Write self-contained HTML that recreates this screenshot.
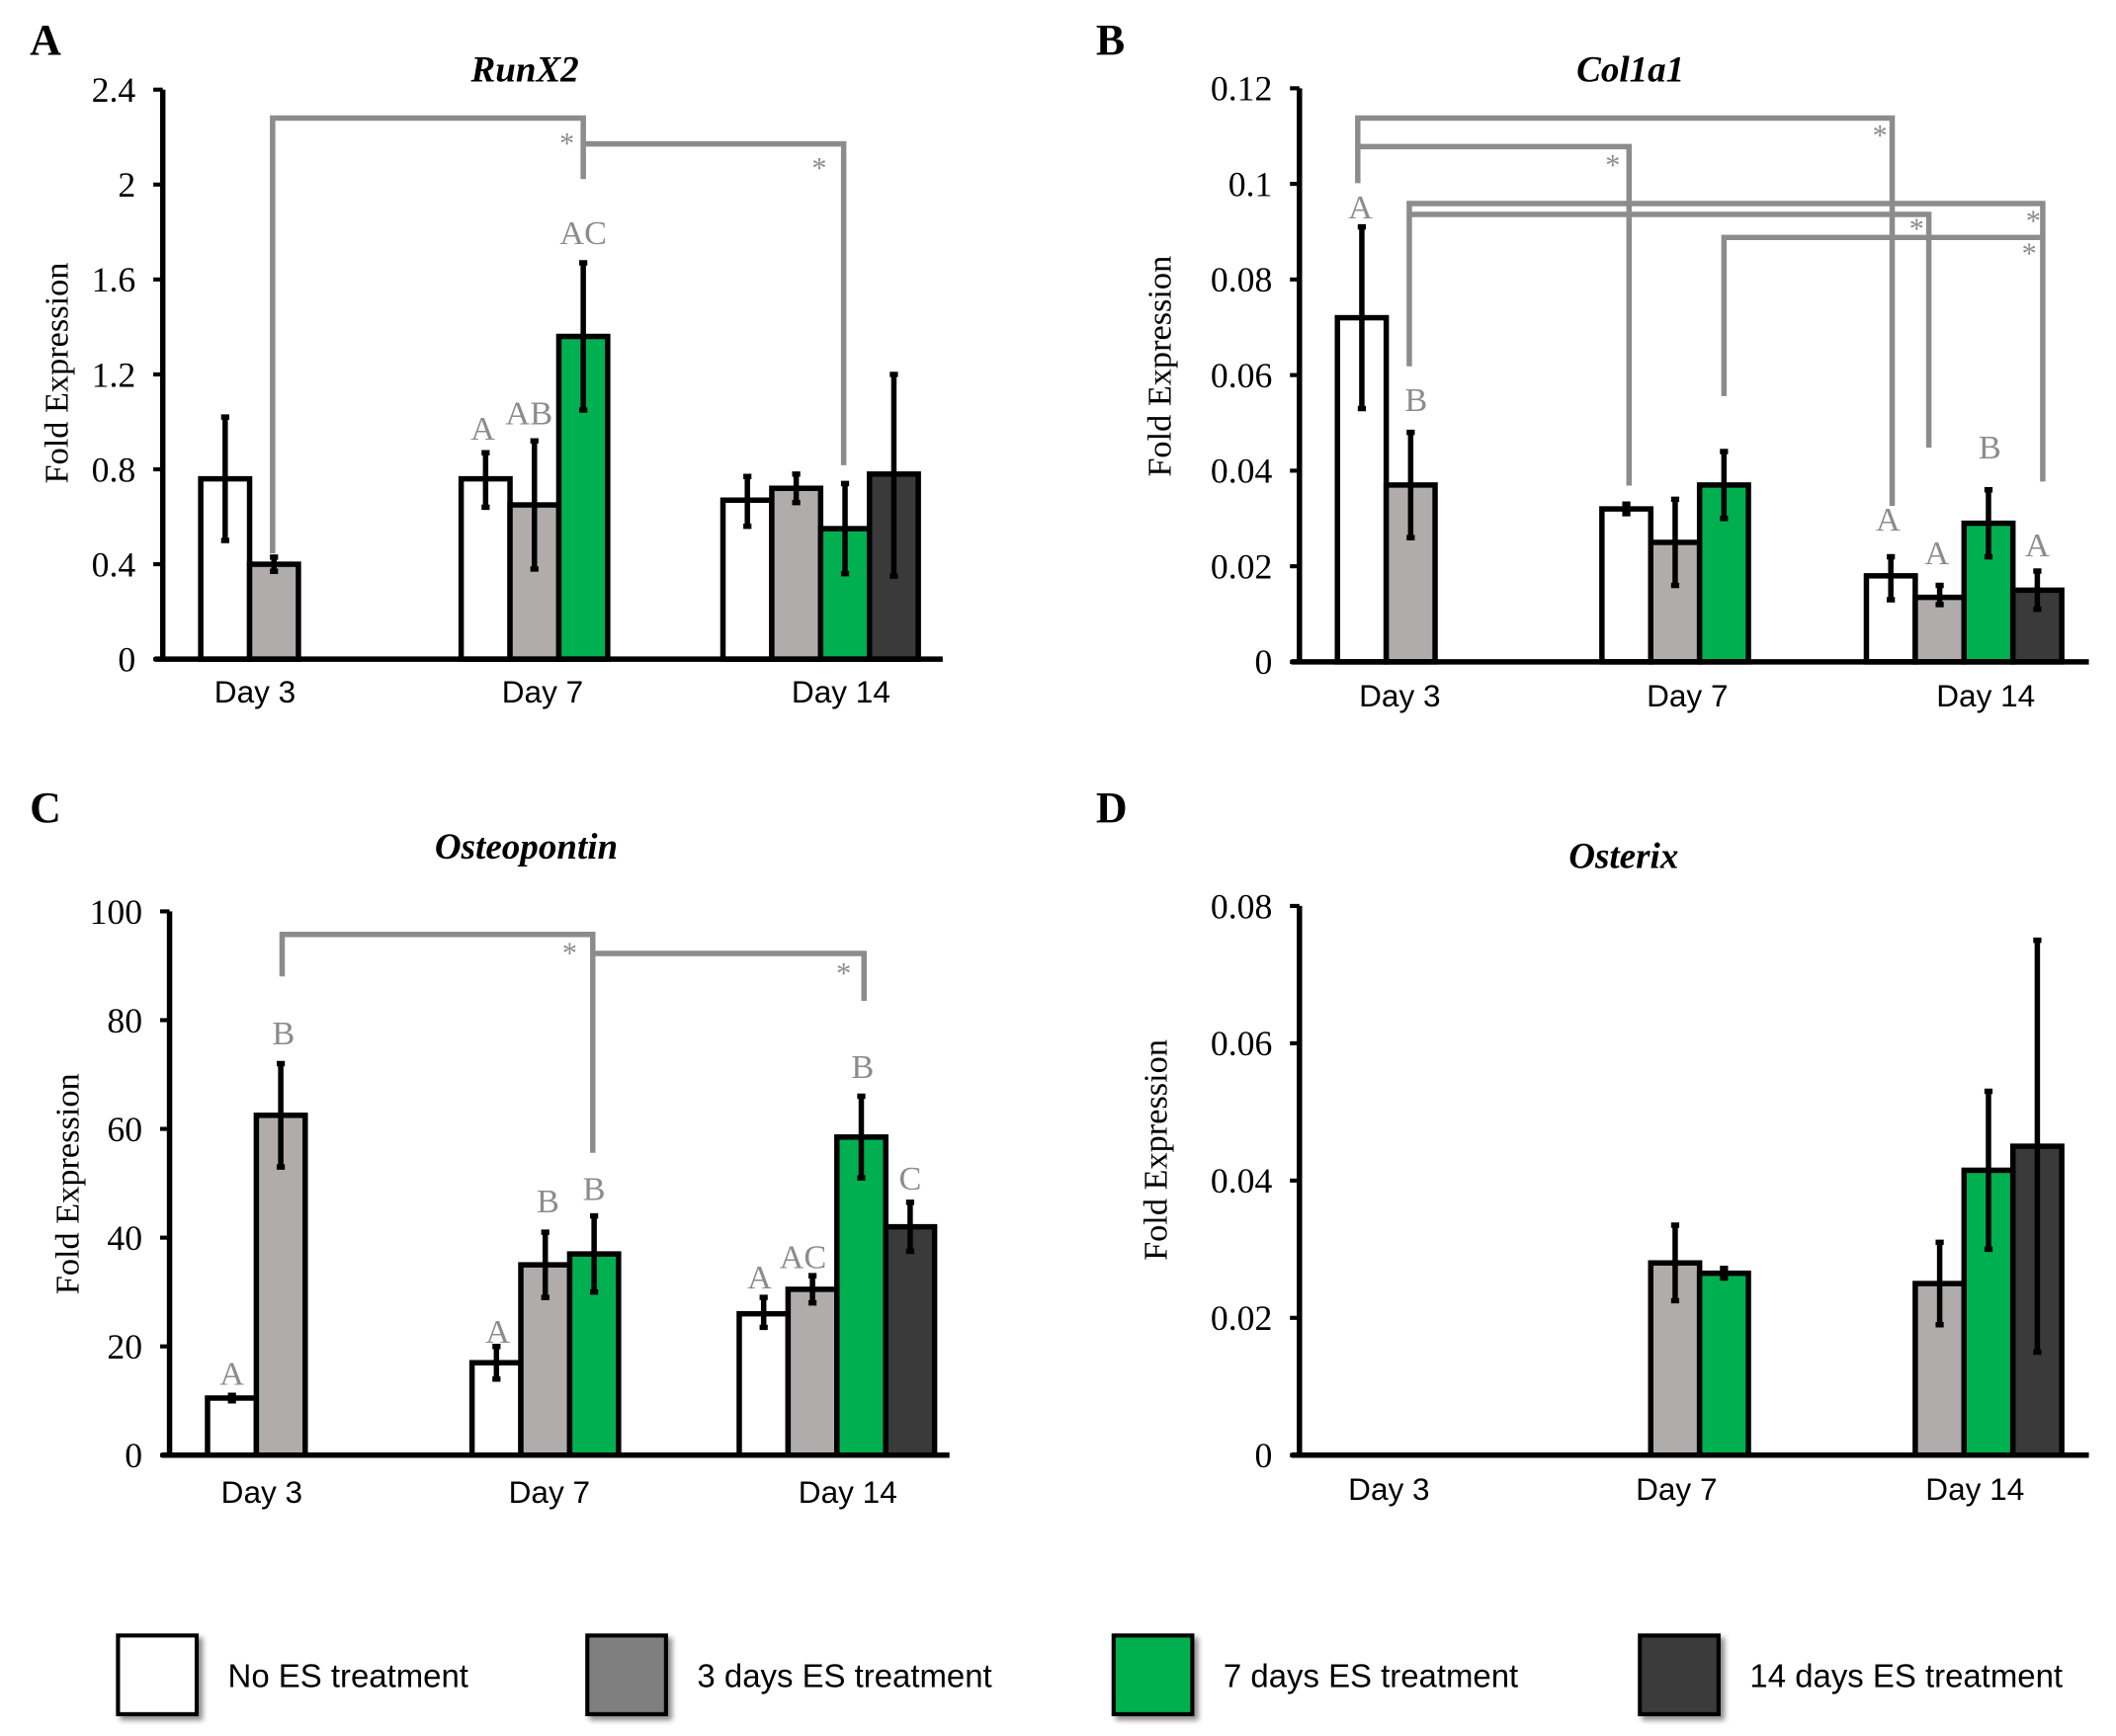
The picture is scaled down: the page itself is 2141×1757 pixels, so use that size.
<!DOCTYPE html>
<html><head><meta charset="utf-8"><style>
html,body{margin:0;padding:0;background:#fff}
svg{display:block}
.tk{font-family:"Liberation Serif",serif;font-size:26px;fill:#000}
.dl{font-family:"Liberation Sans",sans-serif;font-size:23px;fill:#000}
.tt{font-family:"Liberation Serif",serif;font-size:27px;font-weight:bold;font-style:italic}
.yl{font-family:"Liberation Serif",serif;font-size:25px}
.pl{font-family:"Liberation Serif",serif;font-size:32px;font-weight:bold}
.lt{font-family:"Liberation Serif",serif;font-size:25px;fill:#8c8c8c}
.st{font-family:"Liberation Serif",serif;font-size:22px;fill:#8c8c8c}
.lg{font-family:"Liberation Sans",sans-serif;font-size:24px}
</style></head><body>
<svg id="fig" width="2141" height="1757" viewBox="0 0 1560 1280" xmlns="http://www.w3.org/2000/svg">
<defs><filter id="sh" x="-20%" y="-20%" width="150%" height="150%"><feDropShadow dx="3" dy="3" stdDeviation="2" flood-color="#000" flood-opacity="0.45"/></filter></defs>
<g id="legend"></g>
</svg>
<script>
const days = ["Day 3","Day 7","Day 14"];
const colors = ["#ffffff","#b0acab","#00b050","#3a3a3a"];
// Panel A RunX2
const aVals = [[0.76,0.40],[0.76,0.65,1.36],[0.67,0.72,0.55,0.78]];
const aLo = [[0.50,0.37],[0.64,0.38,1.05],[0.56,0.66,0.36,0.35]];
const aHi = [[1.02,0.43],[0.87,0.92,1.67],[0.77,0.78,0.74,1.20]];
const aTicks = [0,0.4,0.8,1.2,1.6,2,2.4];
const aTickLabels = ["0","0.4","0.8","1.2","1.6","2","2.4"];
// Panel B Col1a1
const bVals = [[0.072,0.037],[0.032,0.025,0.037],[0.018,0.0135,0.029,0.015]];
const bLo = [[0.053,0.026],[0.031,0.016,0.030],[0.013,0.012,0.022,0.011]];
const bHi = [[0.091,0.048],[0.033,0.034,0.044],[0.022,0.016,0.036,0.019]];
const bTicks = [0,0.02,0.04,0.06,0.08,0.1,0.12];
const bTickLabels = ["0","0.02","0.04","0.06","0.08","0.1","0.12"];
// Panel C Osteopontin
const cVals = [[10.5,62.5],[17,35,37],[26,30.5,58.5,42]];
const cLo = [[10,53],[14,29,30],[23.5,28,51,37.5]];
const cHi = [[11,72],[20,41,44],[29,33,66,46.5]];
const cTicks = [0,20,40,60,80,100];
const cTickLabels = ["0","20","40","60","80","100"];
// Panel D Osterix
const dVals = [[0,0],[0,0.028,0.0265],[0,0.025,0.0415,0.045]];
const dLo = [[0,0],[0,0.0225,0.0258],[0,0.019,0.030,0.015]];
const dHi = [[0,0],[0,0.0335,0.0272],[0,0.031,0.053,0.075]];
const dTicks = [0,0.02,0.04,0.06,0.08];
const dTickLabels = ["0","0.02","0.04","0.06","0.08"];
const legendLabels = ["No ES treatment","3 days ES treatment","7 days ES treatment","14 days ES treatment"];

const NS="http://www.w3.org/2000/svg";
const svg=document.getElementById('fig');
function mk(tag,attrs,parent,text){const e=document.createElementNS(NS,tag);for(const k in attrs)e.setAttribute(k,attrs[k]);if(text!==undefined)e.textContent=text;parent.appendChild(e);return e;}

const panels=[
 {id:"a",letter:"A",lx:22,ly:40,title:"RunX2",tx:387,ty:60,ax:120,y0:486,yt:66,xend:695,max:2.4,starts:[148,340,533],dlx:[188,400,620],dly:518,ylx:50,yly:275,vals:aVals,lo:aLo,hi:aHi,ticks:aTicks,tl:aTickLabels,
  br:[[201,408,87,430,132],[430,null,106,622,343]],stars:[[418,113],[604,131]],letters:[["A",356,324],["AB",390,313],["AC",430,180]]},
 {id:"b",letter:"B",lx:808,ly:40,title:"Col1a1",tx:1202,ty:60,ax:958,y0:488,yt:65,xend:1540,max:0.12,starts:[986,1181,1376],dlx:[1032,1244,1464],dly:521,ylx:863,yly:270,vals:bVals,lo:bLo,hi:bHi,ticks:bTicks,tl:bTickLabels,
  br:[[1001,135,87,1395,373],[1001,null,108,1201,358],[1039,270,150,1506,355],[1039,null,158,1422,330],[1271,292,175,1506,null]],stars:[[1386,107],[1189,129],[1499,170],[1413,176],[1496,194]],
  letters:[["A",1003,161],["B",1044,303],["A",1392,391],["A",1428,416],["B",1467,338],["A",1502,410]]},
 {id:"c",letter:"C",lx:22,ly:606,title:"Osteopontin",tx:388,ty:633,ax:125,y0:1073,yt:672,xend:700,max:100,starts:[153,348,545],dlx:[193,405,625],dly:1108,ylx:58,yly:873,vals:cVals,lo:cLo,hi:cHi,ticks:cTicks,tl:cTickLabels,
  br:[[208,720,689,437,850],[437,null,703,637,738]],stars:[[420,710],[622,725]],
  letters:[["A",171,1021],["B",209,770],["A",367,990],["B",404,894],["B",438,885],["A",560,950],["AC",592,935],["B",636,795],["C",671,877]]},
 {id:"d",letter:"D",lx:808,ly:606,title:"Osterix",tx:1197,ty:640,ax:958,y0:1073,yt:668,xend:1540,max:0.08,starts:[986,1181,1376],dlx:[1024,1236,1456],dly:1106,ylx:860,yly:848,vals:dVals,lo:dLo,hi:dHi,ticks:dTicks,tl:dTickLabels,br:[],stars:[],letters:[]}
];
const BW=36;
panels.forEach(p=>{
 const g=mk('g',{},svg);
 
 
 const y=v=>p.y0-(v/p.max)*(p.y0-p.yt);
 const pl=mk('text',{x:p.lx,y:p.ly,class:'pl'},g,p.letter);
 
 
 const t=mk('text',{x:p.tx,y:p.ty,class:'tt','text-anchor':'middle'},g,p.title);
 
 
 const yl=mk('text',{x:p.ylx,y:p.yly,class:'yl','text-anchor':'middle',transform:`rotate(-90 ${p.ylx} ${p.yly})`},g,'Fold Expression');
 
 
 p.br.forEach(b=>{
  let d=`M${b[0]} ${b[1]===null?b[2]:b[1]} L${b[0]} ${b[2]} L${b[3]} ${b[2]}`;
  if(b[4]!==null) d+=` L${b[3]} ${b[4]}`;
  const e=mk('path',{d:d,fill:'none',stroke:'#8c8c8c','stroke-width':4},g);
  
  
 });
 p.stars.forEach(s=>{const e=mk('text',{x:s[0],y:s[1],class:'st','text-anchor':'middle'},g,'*');
  
  });
 p.vals.forEach((grp,gi)=>{
  grp.forEach((v,si)=>{
   const x=p.starts[gi]+si*BW;
   if(v>0){
    const r=mk('rect',{x:x,y:y(v),width:BW,height:p.y0-y(v),fill:colors[si],stroke:'#000','stroke-width':4},g);
    
    
    const cx=x+BW/2,lo=y(p.lo[gi][si]),hi=y(p.hi[gi][si]);
    const eb=mk('path',{d:`M${cx} ${lo} L${cx} ${hi} M${cx-3} ${lo} L${cx+3} ${lo} M${cx-3} ${hi} L${cx+3} ${hi}`,stroke:'#000','stroke-width':4,fill:'none'},g);
    
    
   }
  });
 });
 p.letters.forEach(l=>{const e=mk('text',{x:l[1],y:l[2],class:'lt','text-anchor':'middle'},g,l[0]);
  
  });
 const ya=mk('path',{d:`M${p.ax} ${p.yt} L${p.ax} ${p.y0}`,stroke:'#000','stroke-width':4},g);
 
 
 const xa=mk('path',{d:`M${p.ax-6} ${p.y0} L${p.xend} ${p.y0}`,stroke:'#000','stroke-width':4},g);
 
 
 p.ticks.forEach((tv,i)=>{
  mk('path',{d:`M${p.ax-7} ${y(tv)} L${p.ax} ${y(tv)}`,stroke:'#000','stroke-width':3},g);
  const e=mk('text',{x:p.ax-20,y:y(tv)+9,class:'tk','text-anchor':'end'},g,p.tl[i]);
  
  
 });
 days.forEach((d,i)=>{const e=mk('text',{x:p.dlx[i],y:p.dly,class:'dl','text-anchor':'middle'},g,d);
  
  });
});
const lg=document.getElementById('legend');
const lcol=["#ffffff","#7f7f7f","#00b050","#3a3a3a"];
const lxs=[87,433,821,1209];
legendLabels.forEach((t,i)=>{
 const r=mk('rect',{x:lxs[i],y:1206,width:58,height:58,fill:lcol[i],stroke:'#000','stroke-width':3,filter:'url(#sh)'},lg);
 
 
 const e=mk('text',{x:lxs[i]+81,y:1244,class:'lg'},lg,t);
 
 
});
</script>
</body></html>
